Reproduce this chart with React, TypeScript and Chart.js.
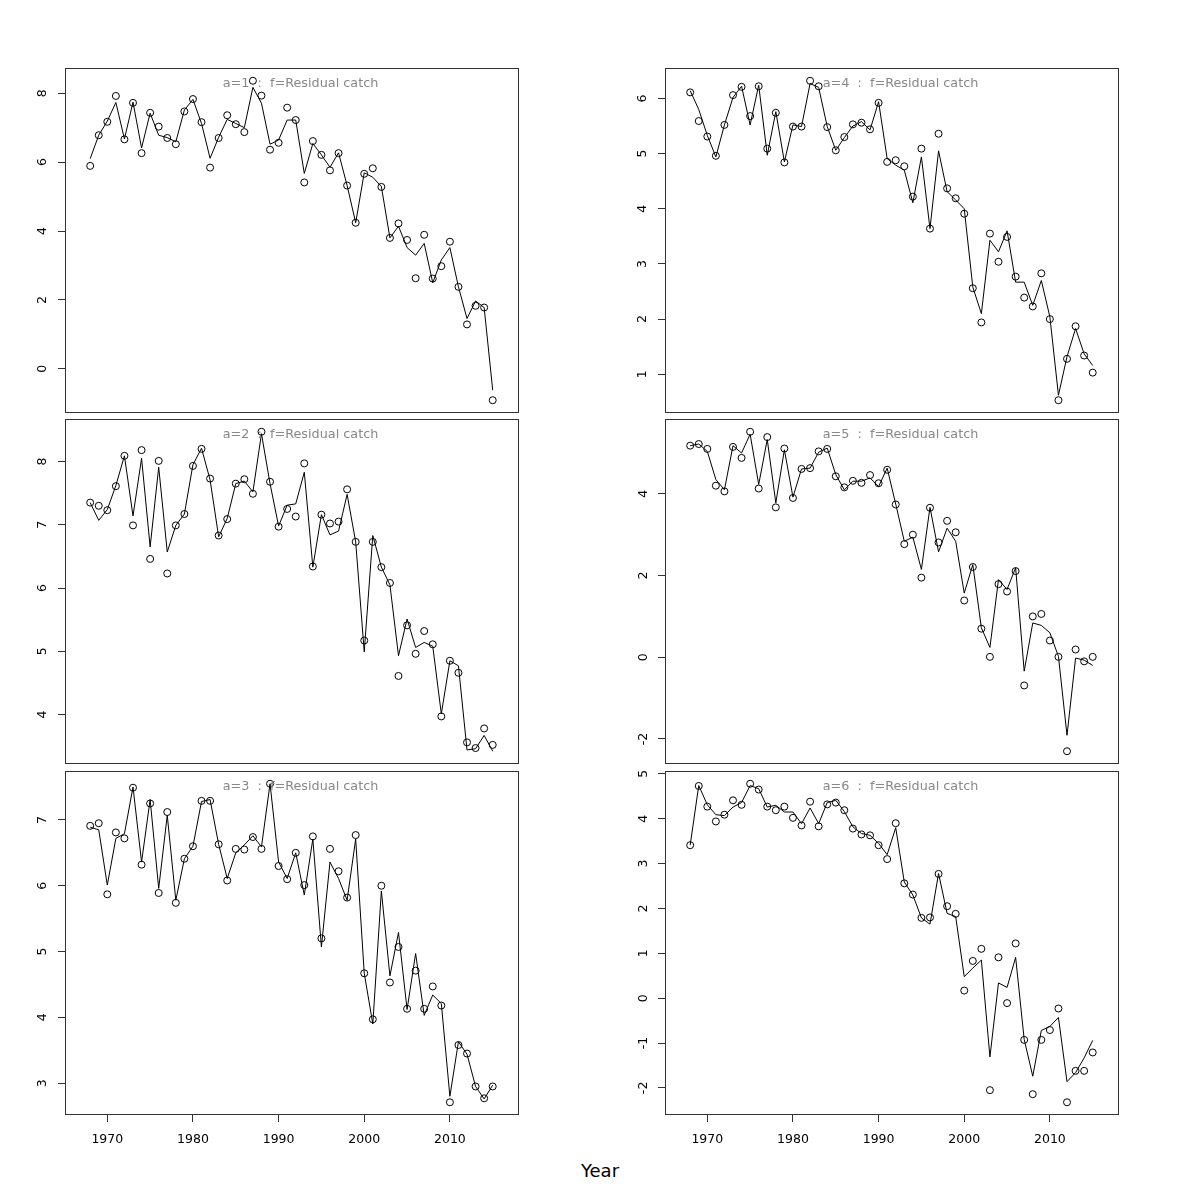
import React, { useEffect, useRef } from "react";
import { Chart, registerables } from "chart.js";

Chart.register(...registerables);

const years = [
  1968, 1969, 1970, 1971, 1972, 1973, 1974, 1975, 1976, 1977, 1978, 1979,
  1980, 1981, 1982, 1983, 1984, 1985, 1986, 1987, 1988, 1989, 1990, 1991,
  1992, 1993, 1994, 1995, 1996, 1997, 1998, 1999, 2000, 2001, 2002, 2003,
  2004, 2005, 2006, 2007, 2008, 2009, 2010, 2011, 2012, 2013, 2014, 2015,
];

const obsA1 = [5.89, 6.78, 7.17, 7.92, 6.66, 7.72, 6.26, 7.43, 7.03, 6.7, 6.52, 7.47, 7.83, 7.16, 5.84, 6.7, 7.36, 7.1, 6.87, 8.36, 7.93, 6.36, 6.56, 7.58, 7.22, 5.41, 6.61, 6.21, 5.76, 6.26, 5.32, 4.24, 5.66, 5.82, 5.28, 3.8, 4.22, 3.74, 2.63, 3.89, 2.62, 2.98, 3.69, 2.38, 1.29, 1.83, 1.78, -0.91];
const fitA1 = [6.1, 6.78, 7.19, 7.73, 6.67, 7.74, 6.41, 7.42, 6.78, 6.71, 6.59, 7.51, 7.82, 7.12, 6.11, 6.72, 7.24, 7.12, 7.0, 8.17, 7.71, 6.52, 6.64, 7.22, 7.22, 5.67, 6.54, 6.21, 5.85, 6.27, 5.32, 4.24, 5.69, 5.56, 5.29, 3.8, 4.14, 3.52, 3.3, 3.64, 2.5, 3.16, 3.52, 2.38, 1.46, 1.97, 1.78, -0.62];

const obsA2 = [7.35, 7.3, 7.23, 7.61, 8.09, 6.99, 8.18, 6.46, 8.01, 6.23, 6.99, 7.17, 7.93, 8.2, 7.73, 6.83, 7.09, 7.65, 7.72, 7.49, 8.47, 7.68, 6.97, 7.25, 7.13, 7.97, 6.34, 7.16, 7.02, 7.05, 7.56, 6.73, 5.17, 6.73, 6.33, 6.08, 4.61, 5.41, 4.96, 5.32, 5.11, 3.97, 4.85, 4.66, 3.56, 3.47, 3.78, 3.52];
const fitA2 = [7.35, 7.07, 7.24, 7.62, 8.09, 7.14, 8.05, 6.65, 7.91, 6.57, 6.99, 7.17, 7.95, 8.21, 7.71, 6.81, 7.1, 7.65, 7.69, 7.52, 8.44, 7.65, 6.98, 7.31, 7.33, 7.83, 6.33, 7.16, 6.84, 6.9, 7.48, 6.73, 4.99, 6.83, 6.33, 6.05, 4.93, 5.51, 5.06, 5.14, 5.08, 4.01, 4.85, 4.77, 3.44, 3.46, 3.67, 3.42];

const obsA3 = [6.91, 6.95, 5.87, 6.81, 6.72, 7.49, 6.32, 7.25, 5.89, 7.12, 5.74, 6.41, 6.6, 7.29, 7.29, 6.63, 6.08, 6.56, 6.55, 6.74, 6.56, 7.55, 6.3, 6.1, 6.5, 6.01, 6.75, 5.2, 6.56, 6.22, 5.82, 6.77, 4.67, 3.97, 6.0, 4.53, 5.07, 4.13, 4.71, 4.13, 4.47, 4.18, 2.71, 3.58, 3.45, 2.95, 2.77, 2.95];
const fitA3 = [6.89, 6.85, 6.01, 6.72, 6.79, 7.5, 6.36, 7.31, 5.96, 7.07, 5.78, 6.41, 6.6, 7.28, 7.31, 6.63, 6.11, 6.5, 6.62, 6.76, 6.59, 7.55, 6.36, 6.11, 6.5, 5.86, 6.71, 5.07, 6.36, 6.11, 5.78, 6.71, 4.67, 3.9, 5.92, 4.63, 5.29, 4.12, 4.97, 4.03, 4.34, 4.21, 2.8, 3.63, 3.44, 2.95, 2.76, 2.97];

const obsA4 = [6.11, 5.59, 5.31, 4.96, 5.52, 6.06, 6.21, 5.68, 6.22, 5.09, 5.74, 4.84, 5.49, 5.49, 6.32, 6.22, 5.48, 5.06, 5.3, 5.53, 5.56, 5.44, 5.92, 4.85, 4.88, 4.77, 4.22, 5.09, 3.64, 5.36, 4.37, 4.19, 3.91, 2.56, 1.94, 3.55, 3.04, 3.49, 2.77, 2.39, 2.23, 2.83, 2.0, 0.53, 1.28, 1.87, 1.34, 1.03];
const fitA4 = [6.14, 5.8, 5.33, 4.94, 5.52, 6.02, 6.22, 5.52, 6.24, 4.97, 5.76, 4.85, 5.52, 5.49, 6.27, 6.2, 5.49, 5.06, 5.29, 5.5, 5.58, 5.43, 5.94, 4.91, 4.79, 4.7, 4.11, 4.94, 3.64, 5.05, 4.31, 4.16, 4.0, 2.58, 2.1, 3.43, 3.22, 3.6, 2.67, 2.67, 2.25, 2.7, 2.04, 0.62, 1.32, 1.83, 1.37, 1.16];

const obsA5 = [5.18, 5.22, 5.1, 4.2, 4.06, 5.15, 4.88, 5.52, 4.13, 5.39, 3.67, 5.11, 3.9, 4.61, 4.63, 5.04, 5.1, 4.43, 4.16, 4.32, 4.27, 4.46, 4.26, 4.59, 3.74, 2.77, 3.0, 1.95, 3.66, 2.81, 3.34, 3.06, 1.39, 2.21, 0.7, 0.01, 1.79, 1.61, 2.11, -0.69, 1.0, 1.06, 0.41, 0.01, -2.3, 0.19, -0.1, 0.01];
const fitA5 = [5.18, 5.22, 5.04, 4.35, 4.1, 5.18, 5.0, 5.46, 4.23, 5.33, 3.78, 5.08, 3.92, 4.61, 4.63, 5.02, 5.12, 4.47, 4.1, 4.31, 4.31, 4.39, 4.18, 4.63, 3.75, 2.84, 2.94, 2.15, 3.67, 2.58, 3.16, 2.84, 1.57, 2.27, 0.72, 0.24, 1.9, 1.66, 2.19, -0.34, 0.84, 0.78, 0.6, 0.02, -1.91, -0.02, -0.07, -0.2];

const obsA6 = [3.41, 4.73, 4.27, 3.94, 4.09, 4.41, 4.31, 4.78, 4.65, 4.27, 4.19, 4.27, 4.02, 3.85, 4.38, 3.83, 4.32, 4.36, 4.19, 3.78, 3.65, 3.63, 3.41, 3.1, 3.9, 2.56, 2.31, 1.79, 1.8, 2.77, 2.05, 1.88, 0.17, 0.83, 1.1, -2.05, 0.91, -0.11, 1.22, -0.93, -2.14, -0.93, -0.71, -0.23, -2.32, -1.62, -1.62, -1.21];
const fitA6 = [3.41, 4.74, 4.31, 4.09, 4.07, 4.26, 4.36, 4.74, 4.67, 4.26, 4.3, 4.15, 4.15, 3.89, 4.24, 3.89, 4.36, 4.41, 4.16, 3.82, 3.67, 3.63, 3.45, 3.2, 3.8, 2.59, 2.3, 1.79, 1.65, 2.78, 1.89, 1.82, 0.48, 0.67, 0.85, -1.31, 0.34, 0.24, 0.91, -0.92, -1.74, -0.72, -0.63, -0.43, -1.86, -1.66, -1.33, -0.94];

const yTicksA1 = [0, 2, 4, 6, 8];
const yTicksA2 = [4, 5, 6, 7, 8];
const yTicksA3 = [3, 4, 5, 6, 7];
const yTicksA4 = [1, 2, 3, 4, 5, 6];
const yTicksA5 = [-2, 0, 2, 4];
const yTicksA6 = [-2, -1, 0, 1, 2, 3, 4, 5];
const xTicks = [1970, 1980, 1990, 2000, 2010];

const titles = [
  "a=1  :  f=Residual catch",
  "a=2  :  f=Residual catch",
  "a=3  :  f=Residual catch",
  "a=4  :  f=Residual catch",
  "a=5  :  f=Residual catch",
  "a=6  :  f=Residual catch",
];
const xLabel = "Year";

const X_MIN = 1965.06;
const X_MAX = 2018.07;

type Box = { l: number; t: number; r: number; b: number };

const panels: {
  title: string;
  obs: number[];
  fit: number[];
  yTicks: number[];
  box: Box;
  bottom: boolean;
}[] = [
  { title: titles[0], obs: obsA1, fit: fitA1, yTicks: yTicksA1, box: { l: 65, t: 68, r: 519, b: 413 }, bottom: false },
  { title: titles[1], obs: obsA2, fit: fitA2, yTicks: yTicksA2, box: { l: 65, t: 419, r: 519, b: 764 }, bottom: false },
  { title: titles[2], obs: obsA3, fit: fitA3, yTicks: yTicksA3, box: { l: 65, t: 771, r: 519, b: 1115 }, bottom: true },
  { title: titles[3], obs: obsA4, fit: fitA4, yTicks: yTicksA4, box: { l: 665, t: 68, r: 1119, b: 413 }, bottom: false },
  { title: titles[4], obs: obsA5, fit: fitA5, yTicks: yTicksA5, box: { l: 665, t: 419, r: 1119, b: 764 }, bottom: false },
  { title: titles[5], obs: obsA6, fit: fitA6, yTicks: yTicksA6, box: { l: 665, t: 771, r: 1119, b: 1115 }, bottom: true },
];

const FONT = '"DejaVu Sans", "Liberation Sans", sans-serif';
const PADL = 62;
const PADT = 10;
const PADR = 10;

function Panel(props: {
  title: string;
  obs: number[];
  fit: number[];
  yTicks: number[];
  box: Box;
  bottom: boolean;
}) {
  const { title, obs, fit, yTicks, box, bottom } = props;
  const ref = useRef<HTMLCanvasElement>(null);
  const PADB = bottom ? 5 : 10;
  const XAH = bottom ? 40 : 0;
  const w = box.r - box.l + PADL + PADR;
  const h = box.b - box.t + PADT + PADB + XAH;

  useEffect(() => {
    const canvas = ref.current;
    if (!canvas) return;
    const all = [...obs, ...fit];
    const lo = Math.min(...all);
    const hi = Math.max(...all);
    const ext = (hi - lo) * 0.04;
    const hasNeg = yTicks.some((v) => v < 0);

    const framePlugin = {
      id: "frame",
      afterDraw(chart: any) {
        const { ctx, chartArea: a } = chart;
        ctx.save();
        ctx.strokeStyle = "#333";
        ctx.lineWidth = 1;
        const L = Math.round(a.left) + 0.5;
        const T = Math.round(a.top) + 0.5;
        const R = Math.round(a.right) - 0.5;
        const B = Math.round(a.bottom) - 0.5;
        ctx.strokeRect(L, T, R - L, B - T);
        const ys = chart.scales.y;
        ctx.beginPath();
        ctx.moveTo(L, Math.round(ys.getPixelForValue(yTicks[0])) + 0.5);
        ctx.lineTo(L, Math.round(ys.getPixelForValue(yTicks[yTicks.length - 1])) + 0.5);
        if (bottom) {
          const xs = chart.scales.x;
          ctx.moveTo(Math.round(xs.getPixelForValue(xTicks[0])) + 0.5, B);
          ctx.lineTo(Math.round(xs.getPixelForValue(xTicks[xTicks.length - 1])) + 0.5, B);
        }
        ctx.stroke();
        ctx.fillStyle = "#888";
        ctx.font = `12.8px ${FONT}`;
        ctx.textAlign = "center";
        ctx.textBaseline = "middle";
        ctx.fillText(title, (a.left + a.right) / 2 + 8.5, a.top + 16);
        ctx.restore();
      },
    };

    const zeroPad = (s: any) => {
      s.paddingTop = 0;
      s.paddingBottom = 0;
      s.paddingLeft = 0;
      s.paddingRight = 0;
    };

    const chart = new Chart(canvas, {
      type: "line",
      data: {
        datasets: [
          {
            data: years.map((x, i) => ({ x, y: fit[i] })),
            borderColor: "#000",
            borderWidth: 1,
            pointRadius: 0,
            tension: 0,
            fill: false,
          },
          {
            data: years.map((x, i) => ({ x, y: obs[i] })),
            showLine: false,
            pointRadius: 3.5,
            pointBorderWidth: 1,
            pointBorderColor: "#000",
            pointBackgroundColor: "rgba(0,0,0,0)",
            borderColor: "#000",
            backgroundColor: "rgba(0,0,0,0)",
          },
        ],
      },
      options: {
        responsive: false,
        maintainAspectRatio: false,
        animation: false,
        devicePixelRatio: 1,
        layout: { padding: { left: 0, top: PADT, right: PADR, bottom: PADB } },
        plugins: {
          legend: { display: false },
          tooltip: { enabled: false },
          title: { display: false },
        },
        scales: {
          x: {
            type: "linear",
            min: X_MIN,
            max: X_MAX,
            display: bottom,
            afterBuildTicks: (s: any) => {
              s.ticks = xTicks.map((v) => ({ value: v }));
            },
            afterFit: (s: any) => {
              s.height = XAH;
              zeroPad(s);
            },
            grid: { drawOnChartArea: false, drawTicks: true, tickLength: 7, color: "#333" },
            border: { display: false },
            ticks: {
              font: { family: FONT, size: 12.5 },
              color: "#000",
              padding: 10,
              maxRotation: 0,
              autoSkip: false,
              callback: (v: any) => String(v),
            },
          },
          y: {
            type: "linear",
            min: lo - ext,
            max: hi + ext,
            afterBuildTicks: (s: any) => {
              s.ticks = yTicks.map((v) => ({ value: v }));
            },
            afterFit: (s: any) => {
              s.width = PADL;
              zeroPad(s);
            },
            grid: { drawOnChartArea: false, drawTicks: true, tickLength: 7, color: "#333" },
            border: { display: false },
            ticks: {
              font: { family: FONT, size: 12.5 },
              color: "#000",
              padding: hasNeg ? 8.5 : 11,
              minRotation: 90,
              maxRotation: 90,
              crossAlign: "center",
              autoSkip: false,
              callback: (v: any) => String(v),
            },
          },
        },
      } as any,
      plugins: [framePlugin],
    });
    return () => chart.destroy();
  }, []);

  return (
    <canvas
      ref={ref}
      width={w}
      height={h}
      style={{
        position: "absolute",
        left: box.l - PADL,
        top: box.t - PADT,
        width: w,
        height: h,
      }}
    />
  );
}

export default function App() {
  return (
    <div
      style={{
        position: "absolute",
        left: 0,
        top: 0,
        width: 1200,
        height: 1200,
        background: "#fff",
        overflow: "hidden",
      }}
    >
      {panels.map((p, i) => (
        <Panel key={i} {...p} />
      ))}
      <div
        style={{
          position: "absolute",
          left: 0,
          top: 1161,
          width: 1200,
          textAlign: "center",
          fontFamily: FONT,
          fontSize: 18,
          lineHeight: "20px",
          color: "#000",
        }}
      >
        {xLabel}
      </div>
    </div>
  );
}
